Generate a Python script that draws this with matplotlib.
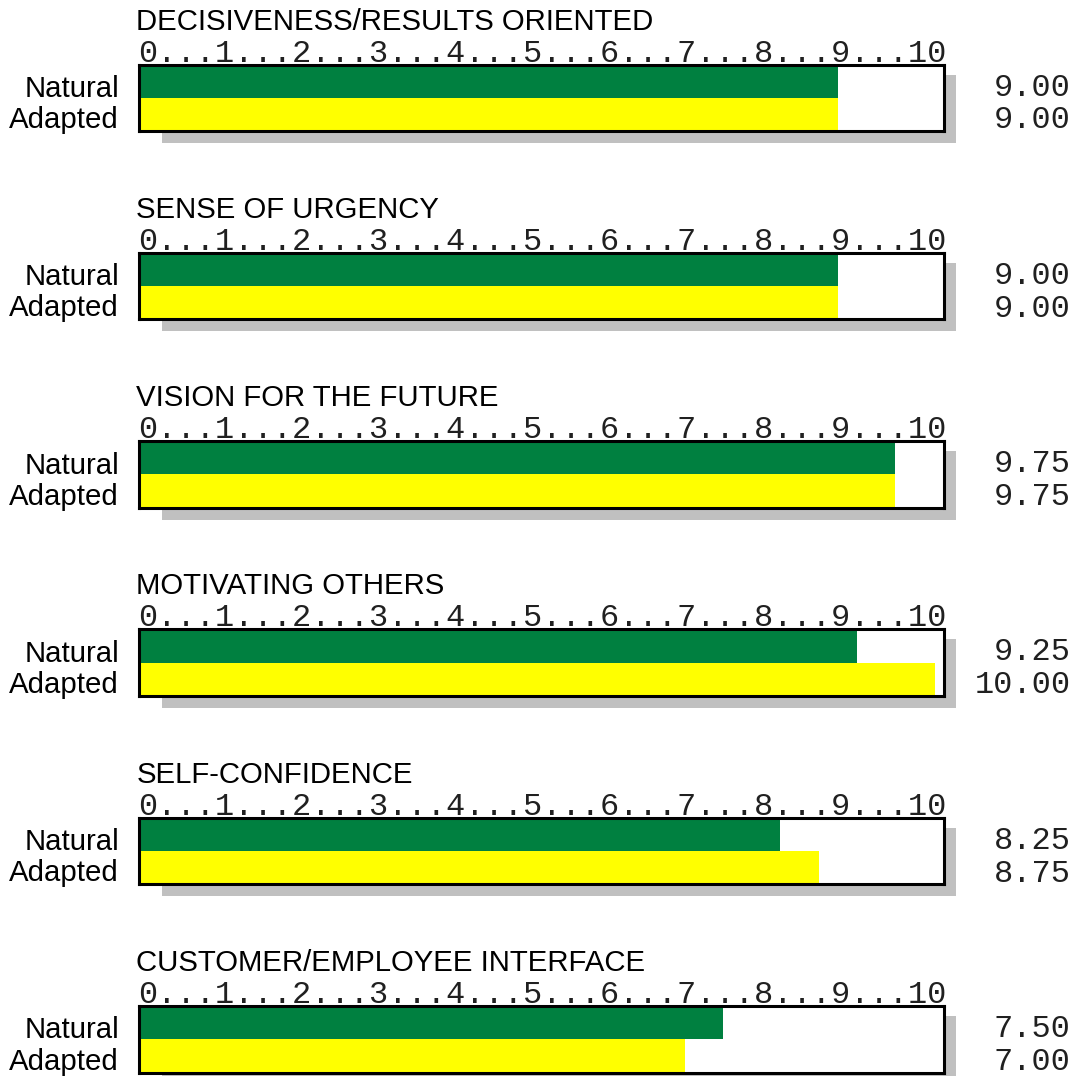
import numpy as np
import matplotlib
matplotlib.use("Agg")
import matplotlib.pyplot as plt
from matplotlib.patches import Rectangle

categories = [
    "DECISIVENESS/RESULTS ORIENTED",
    "SENSE OF URGENCY",
    "VISION FOR THE FUTURE",
    "MOTIVATING OTHERS",
    "SELF-CONFIDENCE",
    "CUSTOMER/EMPLOYEE INTERFACE",
]
natural = [9.00, 9.00, 9.75, 9.25, 8.25, 7.50]
adapted = [9.00, 9.00, 9.75, 10.00, 8.75, 7.00]
row_labels = ["Natural", "Adapted"]
scale_text = "0...1...2...3...4...5...6...7...8...9...10"

GREEN = "#008040"
YELLOW = "#ffff00"
SHADOW = "#c0c0c0"

W, H = 1088, 1076
fig = plt.figure(figsize=(W / 100, H / 100), dpi=100)


def fx(x):
    return x / W


def fy(y):
    return 1 - y / H


# the printed scale stretches the last quarter point up to the "0" of "10"
BREAK, K_LAST = 9.75, 2.08


def fwd(v):
    v = np.asarray(v, dtype=float)
    return np.where(v <= BREAK, v, BREAK + (v - BREAK) * K_LAST)


def inv(u):
    u = np.asarray(u, dtype=float)
    return np.where(u <= BREAK, u, BREAK + (u - BREAK) / K_LAST)


XMIN, XMAX = -0.119, 10.054
BOX_L, BOX_R = 138.5, 944.0
BOX_H = 66.5
STEP = 188.3
SANS = "Liberation Sans"
MONO = "Liberation Mono"

for i, cat in enumerate(categories):
    top = 64.5 + i * STEP

    # drop shadow
    fig.add_artist(Rectangle(
        (fx(BOX_L + 23), fy(top + BOX_H + 12)),
        (BOX_R + 12 - BOX_L - 23) / W, (BOX_H + 2) / H,
        transform=fig.transFigure, facecolor=SHADOW, edgecolor="none", zorder=-1,
    ))

    ax = fig.add_axes([fx(BOX_L), fy(top + BOX_H), (BOX_R - BOX_L) / W, BOX_H / H])
    ax.set_xscale("function", functions=(fwd, inv))
    ax.set_xlim(XMIN, XMAX)
    ax.set_ylim(0, 2)
    ax.barh([1.5, 0.5], [natural[i] - XMIN, adapted[i] - XMIN], left=XMIN,
            height=1.0, color=[GREEN, YELLOW], edgecolor="none")
    ax.set_xticks([])
    ax.set_yticks([])
    ax.xaxis.set_minor_locator(matplotlib.ticker.NullLocator())
    for sp in ax.spines.values():
        sp.set_linewidth(2.2)
        sp.set_color("black")

    fig.text(fx(136.5), fy(top - 35), cat, fontsize=21.2, family=SANS,
             ha="left", va="baseline")
    fig.text(fx(138), fy(top - 3), scale_text, fontsize=23, family=MONO,
             ha="left", va="baseline", color="#202020")
    fig.text(fx(119), fy(top + 32.5), row_labels[0], fontsize=21.2,
             family=SANS, ha="right", va="baseline")
    fig.text(fx(119), fy(top + 63.5), row_labels[1], fontsize=21.2,
             family=SANS, ha="right", va="baseline")
    fig.text(fx(1071), fy(top + 31), f"{natural[i]:.2f}", fontsize=23,
             family=MONO, ha="right", va="baseline", color="#202020")
    fig.text(fx(1071), fy(top + 64), f"{adapted[i]:.2f}", fontsize=23,
             family=MONO, ha="right", va="baseline", color="#202020")

fig.savefig("out.png", dpi=100)
